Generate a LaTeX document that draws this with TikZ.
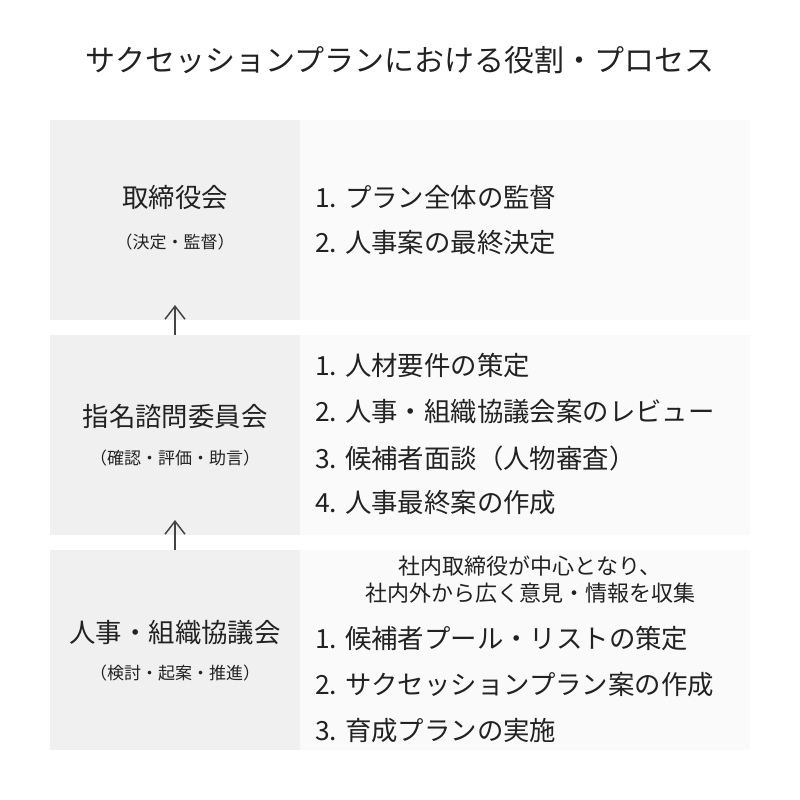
\documentclass[tikz,border=0pt]{standalone}
\usepackage{fontspec}
\setmainfont{Noto Sans CJK JP}
\usetikzlibrary{arrows.meta,positioning,chains}
\definecolor{lgray}{HTML}{F0F0F0}
\definecolor{rgray}{HTML}{FAFAFA}
\definecolor{tgray}{HTML}{222222}
\definecolor{agray}{HTML}{444444}

\begin{document}
\begin{tikzpicture}[x=1pt,y=-1pt,
  lbox/.style={fill=lgray,minimum width=250pt,minimum height=200pt,inner sep=0pt,outer sep=0pt},
  rbox/.style={fill=rgray,minimum width=450pt,minimum height=200pt,inner sep=0pt,outer sep=0pt},
  arj/.style={line width=1.5pt,draw=agray,-{Straight Barb[length=13pt,width=20pt]}},
  big/.style={font=\fontsize{26.4}{30}\selectfont,text=tgray},
  small/.style={font=\fontsize{17}{20}\selectfont,text=tgray},
  item/.style={big,anchor=west,inner sep=0pt}]
\useasboundingbox (0,0) rectangle (800,800);
\node[font=\fontsize{30}{36}\selectfont,text=tgray] (title) at (400,60) {サクセッションプランにおける役割・プロセス};

\path[start chain=L going below,node distance=15pt,nodes={on chain,lbox}]
    node[anchor=north west] (board) at (50,120) {}
    node (nomcom) {}
    node (hrcouncil) {};
\node[rbox,right=0pt of board] (boardR) {};
\node[rbox,right=0pt of nomcom] (nomcomR) {};
\node[rbox,right=0pt of hrcouncil] (hrcouncilR) {};

\node[big] (boardT) at (175,198) {取締役会};
\node[small] (boardS) at (175,242) {（決定・監督）};
\node[big] (nomcomT) at (175,416) {指名諮問委員会};
\node[small] (nomcomS) at (175,458) {（確認・評価・助言）};
\node[big] (hrcouncilT) at (175,633) {人事・組織協議会};
\node[small] (hrcouncilS) at (175,673) {（検討・起案・推進）};

\node[item] (b1) at (315,197) {1. プラン全体の監督};
\node[item] (b2) at (315,243) {2. 人事案の最終決定};
\node[item] (n1) at (315,365) {1. 人材要件の策定};
\node[item] (n2) at (315,412) {2. 人事・組織協議会案のレビュー};
\node[item] (n3) at (315,458) {3. 候補者面談（人物審査）};
\node[item] (n4) at (315,503) {4. 人事最終案の作成};
\node[font=\fontsize{22}{27}\selectfont,text=tgray,align=center] (hnote) at (530,580) {社内取締役が中心となり、\\社内外から広く意見・情報を収集};
\node[item] (h1) at (315,638) {1. 候補者プール・リストの策定};
\node[item] (h2) at (315,685) {2. サクセッションプラン案の作成};
\node[item] (h3) at (315,731) {3. 育成プランの実施};

\draw[arj] (nomcom.north) -- ([yshift=15pt]board.south);
\draw[arj] (hrcouncil.north) -- ([yshift=15pt]nomcom.south);
\end{tikzpicture}
\end{document}
